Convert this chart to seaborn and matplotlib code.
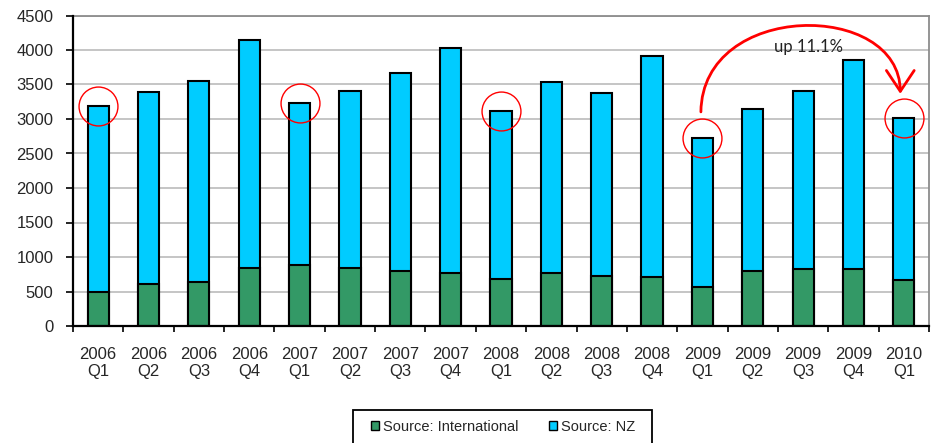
import matplotlib
matplotlib.use("Agg")
import matplotlib.pyplot as plt
from matplotlib.patches import FancyArrowPatch, Rectangle, Patch
from matplotlib.path import Path
import seaborn as sns
import pandas as pd

# Quarterly counts by source
quarters = ["2006\nQ1", "2006\nQ2", "2006\nQ3", "2006\nQ4",
            "2007\nQ1", "2007\nQ2", "2007\nQ3", "2007\nQ4",
            "2008\nQ1", "2008\nQ2", "2008\nQ3", "2008\nQ4",
            "2009\nQ1", "2009\nQ2", "2009\nQ3", "2009\nQ4",
            "2010\nQ1"]
international = [500, 610, 640, 840, 880, 840, 800, 770, 680, 770, 730, 710,
                 570, 800, 820, 820, 660]
nz = [2690, 2780, 2910, 3310, 2350, 2570, 2870, 3260, 2430, 2760, 2640, 3210,
      2150, 2340, 2590, 3030, 2360]
highlighted = ["2006\nQ1", "2007\nQ1", "2008\nQ1", "2009\nQ1", "2010\nQ1"]
growth_label = "up 11.1%"

GREEN = "#339966"
CYAN = "#00CCFF"

sns.set_style("white")
plt.rcParams["font.family"] = ["Liberation Sans", "DejaVu Sans"]

df = pd.DataFrame({"quarter": quarters, "International": international, "NZ": nz})
df["total"] = df["International"] + df["NZ"]

fig = plt.figure(figsize=(9.32, 4.43), dpi=100)
ax = fig.add_axes([73 / 932, 1 - 326 / 443, (929 - 73) / 932, (326 - 15.5) / 443])

# Stacked bars: full height in cyan, international portion drawn over it
sns.barplot(data=df, x="quarter", y="total", order=quarters, color=CYAN,
            saturation=1, width=0.42, edgecolor="black", linewidth=1.5, ax=ax, zorder=3)
sns.barplot(data=df, x="quarter", y="International", order=quarters, color=GREEN,
            saturation=1, width=0.42, edgecolor="black", linewidth=1.5, ax=ax, zorder=3)

ax.set_xlim(-0.5, len(quarters) - 0.5)
ax.set_ylim(0, 4500)
ax.set_yticks(range(0, 4501, 500))
ax.set_xlabel("")
ax.set_ylabel("")

ax.grid(axis="y", color="#c0c0c0", linewidth=1.3, zorder=0)
ax.set_axisbelow(True)
for side in ("left", "bottom"):
    ax.spines[side].set_color("black")
    ax.spines[side].set_linewidth(1.6)
    ax.spines[side].set_zorder(5)
for side in ("top", "right"):
    ax.spines[side].set_visible(True)
    ax.spines[side].set_color("#8c8c8c")
    ax.spines[side].set_linewidth(1.3)

ax.tick_params(axis="y", which="major", direction="out", length=5, width=1.2,
               color="black", labelsize=12, pad=9, left=True)
ax.tick_params(axis="x", which="major", length=0, labelsize=12, pad=15)
ax.set_xticks([i + 0.5 for i in range(-1, len(quarters))], minor=True)
ax.tick_params(axis="x", which="minor", direction="out", length=4, width=1.2,
               color="black", bottom=True)
for lbl in ax.get_xticklabels():
    lbl.set_linespacing(1.15)

# Red circles around the first-quarter totals
hl = df[df["quarter"].isin(highlighted)]
hl_x = [quarters.index(q) for q in hl["quarter"]]
ax.plot(hl_x, hl["total"], linestyle="none", marker="o", markersize=28,
        markerfacecolor="none", markeredgecolor="red", markeredgewidth=1.0, zorder=6)

# Curved arrow from 2009 Q1 to 2010 Q1
i0 = quarters.index("2009\nQ1")
i1 = quarters.index("2010\nQ1")
y0 = df.loc[i0, "total"] + 383
y1 = df.loc[i1, "total"] + 345
ctrl = 4720
arc = Path([(i0 - 0.03, y0), (i0, ctrl), (i1 - 0.07, ctrl), (i1 - 0.07, y1)],
           [Path.MOVETO, Path.CURVE4, Path.CURVE4, Path.CURVE4])
arrow = FancyArrowPatch(path=arc, arrowstyle="->,head_length=0.75,head_width=0.5",
                        mutation_scale=20, color="red", linewidth=2.0, zorder=7,
                        clip_on=False)
ax.add_patch(arrow)
ax.text((i0 + i1) / 2 + 0.1, 4040, growth_label, ha="center", va="center",
        fontsize=12, family=["Lato", "DejaVu Sans"], color="#222222", zorder=8)

# Legend with a plain black frame running off the bottom edge
handles = [Patch(facecolor=GREEN, edgecolor="black", linewidth=1.0, label="Source: International"),
           Patch(facecolor=CYAN, edgecolor="black", linewidth=1.0, label="Source: NZ")]
fig.legend(handles=handles, loc="center", bbox_to_anchor=(503 / 932, 1 - 427 / 443),
           ncol=2, frameon=False, fontsize=10.5, handlelength=0.55, handleheight=0.55,
           handletextpad=0.25, columnspacing=2.1)
fig.patches.append(Rectangle((353 / 932, -0.05), (652 - 353) / 932, (0.05 + 1 - 410 / 443),
                             transform=fig.transFigure, fill=False, edgecolor="black",
                             linewidth=1.3))

fig.savefig("out.png", dpi=100)
